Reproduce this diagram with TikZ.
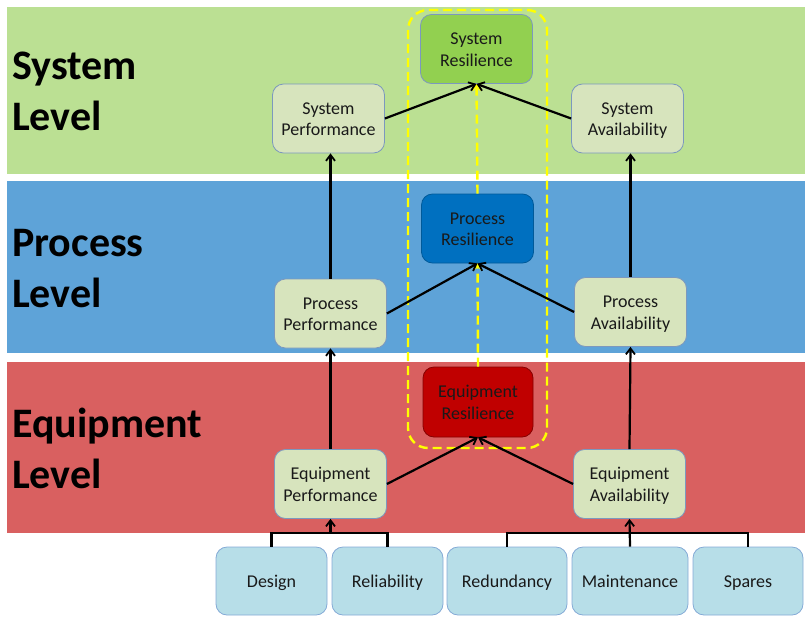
\documentclass[tikz,border=0pt]{standalone}
\usepackage{fontspec}
\setmainfont{Carlito}
\usetikzlibrary{arrows.meta}
\definecolor{bandgreen}{RGB}{187,224,147}
\definecolor{bandblue}{RGB}{94,163,216}
\definecolor{bandred}{RGB}{217,96,96}
\definecolor{nodefill}{RGB}{215,228,189}
\definecolor{nodeedge}{RGB}{124,152,190}
\definecolor{leafill}{RGB}{183,222,232}
\definecolor{leafedge}{RGB}{132,170,214}
\definecolor{resgreen}{RGB}{146,208,80}
\definecolor{resblue}{RGB}{0,112,192}
\definecolor{resred}{RGB}{192,0,0}
\definecolor{txt}{RGB}{25,25,25}
\definecolor{yel}{RGB}{255,255,0}
\newcommand\topsx{\rule{0pt}{19pt}}
\newcommand\botsx{\rule[-6pt]{0pt}{6pt}}
\tikzset{
  box/.style={draw=nodeedge, line width=0.8pt, rounded corners=11pt, inner sep=0pt,
    align=center, text=txt, font=\fontsize{18}{21.5}\selectfont},
  metric/.style={box, fill=nodefill, minimum width=112pt, minimum height=69pt},
  resil/.style={box, minimum width=112pt, minimum height=69pt},
  leaf/.style={box, draw=leafedge, fill=leafill, minimum height=68pt},
  levellabel/.style={anchor=west, align=left, inner sep=0pt,
    font=\fontsize{42}{51}\selectfont\bfseries},
  arr/.style={draw=black, line width=2.2pt, -{Straight Barb[length=6pt,width=9pt,line width=1.8pt]}},
  bus/.style={draw=black, line width=2.2pt},
  ydash/.style={draw=yel, line width=2.4pt, dash pattern=on 9pt off 5pt},
  yarr/.style={ydash, -{Straight Barb[length=5pt,width=8pt,line width=1.8pt]}},
}
\begin{document}
\begin{tikzpicture}[x=1pt,y=-1pt]
\useasboundingbox (0,0) rectangle (805,616);
% bands
\fill[bandgreen] (7,7) rectangle (806,174);
\fill[bandblue] (7,181) rectangle (806,353);
\fill[bandred] (7,362) rectangle (806,533);
% level labels
\node[levellabel] (lsys) at (12,91.5) {System\\Level};
\node[levellabel] (lproc) at (12,268.5) {Process\\Level};
\node[levellabel] (lequip) at (12,448.5) {Equipment\\Level};
% nodes
\node[resil, fill=resgreen, draw=nodeedge] (sr) at (476.5,49) {\topsx System\\Resilience\botsx};
\node[metric] (sp) at (328.5,118.5) {\topsx System\\Performance\botsx};
\node[metric] (sa) at (627.5,118.5) {\topsx System\\Availability\botsx};
\node[resil, fill=resblue, draw=resblue!80!black] (pr) at (477.5,228.5) {\topsx Process\\Resilience\botsx};
\node[metric] (pp) at (330.5,313.5) {\topsx Process\\Performance\botsx};
\node[metric] (pa) at (630.5,312) {\topsx Process\\Availability\botsx};
\node[resil, fill=resred, draw=resred!70!black, minimum width=110pt, minimum height=70pt] (er) at (478,402) {\topsx Equipment\\Resilience\botsx};
\node[metric] (ep) at (330.5,484) {\topsx Equipment\\Performance\botsx};
\node[metric] (ea) at (629.5,484) {\topsx Equipment\\Availability\botsx};
\node[leaf, minimum width=111pt] (design) at (271.5,581) {\topsx Design\botsx};
\node[leaf, minimum width=111pt] (relia) at (387.5,581) {\topsx Reliability\botsx};
\node[leaf, minimum width=120pt] (redun) at (507,581) {\topsx Redundancy\botsx};
\node[leaf, minimum width=116pt] (maint) at (630,581) {\topsx Maintenance\botsx};
\node[leaf, minimum width=110pt] (spares) at (748,581) {\topsx Spares\botsx};
% yellow dashed frame and links
\draw[ydash, rounded corners=20pt] (408,10) rectangle (547,448);
\draw[yarr] (er.north) -- (pr.south);
\draw[yarr] (pr.north) -- (sr.south);
% bus coordinates
\coordinate (b1) at (330.5,533);
\coordinate (b2) at (630,533);
\draw[bus] (design.north) |- (b1) -| (relia.north);
\draw[arr] (b1) -- (ep.south);
\draw[bus] (redun.north) |- (b2) -| (spares.north);
\draw[arr] (maint.north) -- (ea.south);
% equipment to process
\draw[arr] (ep.north) -- (pp.south);
\draw[arr] (ea.north) -- (pa.south);
\draw[arr] (ep.east) -- (er.south);
\draw[arr] (ea.west) -- (er.south);
% process to system
\draw[arr] (pp.north) -- (pp.north |- sp.south);
\draw[arr] (pa.north) -- (pa.north |- sa.south);
\draw[arr] (pp.east) -- (pr.south);
\draw[arr] (pa.west) -- (pr.south);
% system
\draw[arr] (sp.east) -- (sr.south);
\draw[arr] (sa.west) -- (sr.south);
\end{tikzpicture}
\end{document}
